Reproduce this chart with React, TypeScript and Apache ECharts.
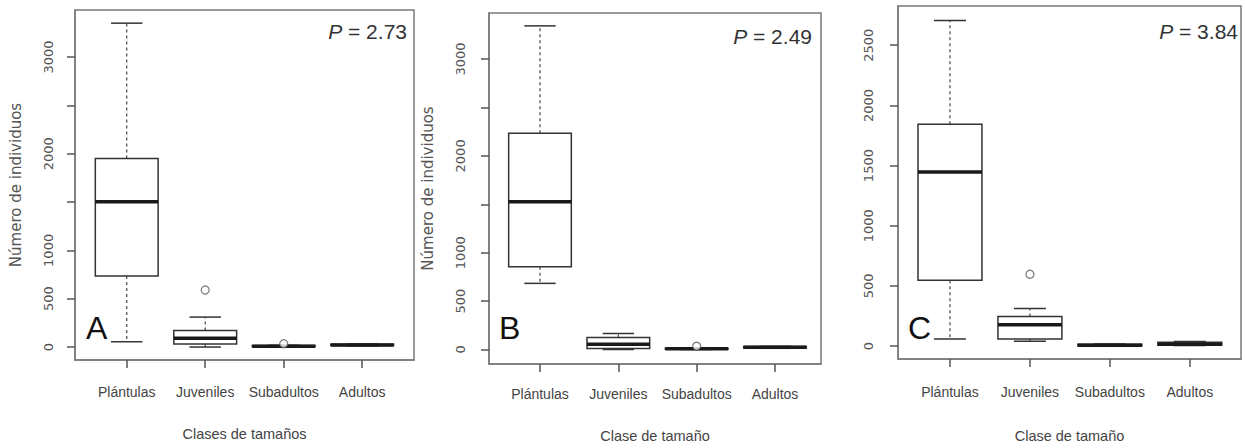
import React, { useEffect, useRef } from "react";
import * as echarts from "echarts";

// ---------- data ----------
const categories = ["Plántulas", "Juveniles", "Subadultos", "Adultos"];
// each box: [lower whisker, Q1, median, Q3, upper whisker]
const boxesA = [
  [55, 734, 1503, 1951, 3350],
  [0, 31, 90, 172, 310],
  [0, 2, 8, 15, 18],
  [12, 16, 22, 28, 32],
];
const outliersA = [
  [2, 590],
  [3, 35],
];
const boxesB = [
  [683, 854, 1527, 2234, 3343],
  [0, 10, 55, 124, 165],
  [0, 2, 8, 12, 15],
  [12, 15, 22, 30, 32],
];
const outliersB = [[3, 35]];
const boxesC = [
  [60, 548, 1446, 1843, 2705],
  [41, 60, 178, 247, 312],
  [0, 2, 8, 16, 18],
  [5, 8, 15, 33, 38],
];
const outliersC = [[2, 597]];
const yTicksAB = [0, 500, 1000, 1500, 2000, 2500, 3000];
const yLabelsAB = [0, 500, 1000, 2000, 3000];
const yTicksC = [0, 500, 1000, 1500, 2000, 2500];
const yLabelsC = [0, 500, 1000, 1500, 2000, 2500];
const xTickValues = [1, 2, 3, 4];
const pValues = ["2.73", "2.49", "3.84"];
const panelLetters = ["A", "B", "C"];
const xTitles = ["Clases de tamaños", "Clase de tamaño", "Clase de tamaño"];
const yTitles = ["Número de individuos", "Número de individuos", ""];

// ---------- layout ----------
const WIDE = '"DejaVu Sans", "Liberation Sans", sans-serif';
const REG = '"Liberation Sans", Arial, sans-serif';
const TICK_LEN = 8;

const panels = [
  {
    grid: { left: 75, top: 10, width: 339, height: 350 },
    xMin: 0.341, xMax: 4.66, yMin: -134, yMax: 3486,
    yTicks: yTicksAB, yLabels: yLabelsAB, boxes: boxesA, outliers: outliersA,
    yLabelMargin: 20, yNameGap: 52, xNameGap: 66, xLabelMargin: 25,
    pX: 407, pY: 31, letterX: 86, letterY: 328,
  },
  {
    grid: { left: 489, top: 13, width: 332, height: 351 },
    xMin: 0.349, xMax: 4.587, yMin: -150, yMax: 3476,
    yTicks: yTicksAB, yLabels: yLabelsAB, boxes: boxesB, outliers: outliersB,
    yLabelMargin: 22, yNameGap: 54, xNameGap: 64, xLabelMargin: 23,
    pX: 812, pY: 36, letterX: 499, letterY: 328,
  },
  {
    grid: { left: 898, top: 6, width: 343, height: 357 },
    xMin: 0.35, xMax: 4.64, yMin: -107, yMax: 2826,
    yTicks: yTicksC, yLabels: yLabelsC, boxes: boxesC, outliers: outliersC,
    yLabelMargin: 23, yNameGap: 54, xNameGap: 69, xLabelMargin: 26,
    pX: 1238, pY: 31, letterX: 908, letterY: 328,
  },
];

function renderBox(params: any, api: any) {
  const x = api.value(0);
  const lo = api.value(1);
  const q1 = api.value(2);
  const med = api.value(3);
  const q3 = api.value(4);
  const hi = api.value(5);
  const bw = api.size([0.8, 0])[0];
  const sw = bw / 2;
  const cx = api.coord([x, lo])[0];
  const yLo = api.coord([x, lo])[1];
  const yQ1 = api.coord([x, q1])[1];
  const yMed = api.coord([x, med])[1];
  const yQ3 = api.coord([x, q3])[1];
  const yHi = api.coord([x, hi])[1];
  const stroke = "#333";
  const whisk = { stroke: "#444", lineWidth: 1.2, lineDash: [3, 3] };
  return {
    type: "group",
    children: [
      { type: "line", shape: { x1: cx, y1: yQ3, x2: cx, y2: yHi }, style: whisk },
      { type: "line", shape: { x1: cx, y1: yQ1, x2: cx, y2: yLo }, style: whisk },
      { type: "line", shape: { x1: cx - sw / 2, y1: yHi, x2: cx + sw / 2, y2: yHi }, style: { stroke, lineWidth: 1.5 } },
      { type: "line", shape: { x1: cx - sw / 2, y1: yLo, x2: cx + sw / 2, y2: yLo }, style: { stroke, lineWidth: 1.5 } },
      {
        type: "rect",
        shape: { x: cx - bw / 2, y: yQ3, width: bw, height: Math.max(yQ1 - yQ3, 0.5) },
        style: { fill: "#fff", stroke, lineWidth: 1.5 },
      },
      { type: "line", shape: { x1: cx - bw / 2, y1: yMed, x2: cx + bw / 2, y2: yMed }, style: { stroke: "#1a1a1a", lineWidth: 3.5 } },
    ],
  };
}

export default function App() {
  const ref = useRef<HTMLDivElement>(null);
  useEffect(() => {
    if (!ref.current) return;
    const chart = echarts.init(ref.current, null, { renderer: "svg" });

    const grids: any[] = [];
    const xAxes: any[] = [];
    const yAxes: any[] = [];
    const series: any[] = [];
    const graphics: any[] = [];

    panels.forEach((p, i) => {
      grids.push({
        ...p.grid,
        show: true,
        borderColor: "#7a7a7a",
        borderWidth: 1.5,
        backgroundColor: "#fff",
        containLabel: false,
      });
      xAxes.push({
        gridIndex: i,
        type: "value",
        min: p.xMin,
        max: p.xMax,
        axisLine: { show: true, onZero: false, lineStyle: { color: "#7a7a7a", width: 1.5 } },
        splitLine: { show: false },
        axisTick: {
          show: true,
          customValues: [...xTickValues],
          length: TICK_LEN,
          lineStyle: { color: "#555", width: 1.5 },
        },
        axisLabel: {
          show: true,
          customValues: [...xTickValues],
          formatter: (v: number) => categories[Math.round(v) - 1] || "",
          margin: p.xLabelMargin,
          fontFamily: REG,
          fontSize: 14,
          color: "#444",
        },
        name: xTitles[i],
        nameLocation: "middle",
        nameGap: p.xNameGap,
        nameTextStyle: { fontFamily: REG, fontSize: 14.5, color: "#444" },
      });
      yAxes.push({
        gridIndex: i,
        type: "value",
        min: p.yMin,
        max: p.yMax,
        axisLine: { show: true, onZero: false, lineStyle: { color: "#7a7a7a", width: 1.5 } },
        splitLine: { show: false },
        axisTick: { show: true, customValues: [...p.yTicks], length: TICK_LEN, lineStyle: { color: "#555", width: 1.5 } },
        axisLabel: {
          show: true,
          customValues: [...p.yLabels],
          formatter: (v: number) => String(v),
          rotate: 90,
          margin: p.yLabelMargin,
          fontFamily: WIDE,
          fontSize: 13,
          color: "#555",
        },
        name: yTitles[i],
        nameLocation: "middle",
        nameGap: p.yNameGap,
        nameRotate: 90,
        nameTextStyle: { fontFamily: WIDE, fontSize: 15, color: "#555" },
      });
      series.push({
        type: "custom",
        xAxisIndex: i,
        yAxisIndex: i,
        renderItem: renderBox,
        encode: { x: 0, y: [1, 2, 3, 4, 5] },
        data: p.boxes.map((b, k) => [k + 1, ...b]),
        z: 2,
      });
      series.push({
        type: "scatter",
        xAxisIndex: i,
        yAxisIndex: i,
        data: p.outliers,
        symbol: "circle",
        symbolSize: 8,
        itemStyle: { color: "#fff", borderColor: "#555", borderWidth: 1.2 },
        z: 3,
      });
      graphics.push({
        type: "text",
        x: p.pX,
        y: p.pY,
        z: 10,
        style: {
          text: "{i|P} = " + pValues[i],
          align: "right",
          verticalAlign: "middle",
          fontFamily: REG,
          fontSize: 21,
          fill: "#333",
          rich: {
            i: { fontStyle: "italic", fontFamily: REG, fontSize: 21, fill: "#333" },
          },
        },
      });
      graphics.push({
        type: "text",
        x: p.letterX,
        y: p.letterY,
        z: 10,
        style: {
          text: panelLetters[i],
          align: "left",
          verticalAlign: "middle",
          fontFamily: REG,
          fontSize: 32,
          fill: "#111",
        },
      });
    });

    chart.setOption({
      animation: false,
      backgroundColor: "#fff",
      grid: grids,
      xAxis: xAxes,
      yAxis: yAxes,
      series,
      graphic: graphics,
    });
    return () => chart.dispose();
  }, []);
  return (
    <div
      ref={ref}
      style={{ position: "absolute", left: 0, top: 0, width: 1245, height: 448 }}
    />
  );
}
